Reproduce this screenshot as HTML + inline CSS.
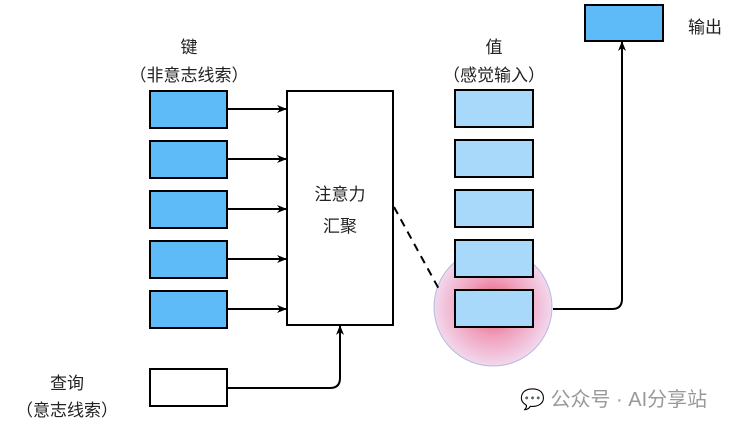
<!DOCTYPE html>
<html><head><meta charset="utf-8"><style>
body{margin:0;background:#fff;width:739px;height:428px;overflow:hidden}
text{font-family:"Liberation Sans","Noto Sans CJK SC",sans-serif;fill:#222}
</style></head><body>
<svg width="739" height="428" xmlns="http://www.w3.org/2000/svg">
<defs>
<radialGradient id="g" cx="0.5" cy="0.5" r="0.5">
<stop offset="0" stop-color="#e8506e"/>
<stop offset="0.5" stop-color="#f0a0bc"/>
<stop offset="1" stop-color="#f2d8ee"/>
</radialGradient>
<marker id="a" markerWidth="10" markerHeight="8" refX="9" refY="4" orient="auto" markerUnits="userSpaceOnUse">
<path d="M0,0 L10,4 L0,8 L3,4z" fill="#000"/>
</marker>
</defs>
<text x="189" y="53" font-size="17" text-anchor="middle">键</text>
<text x="189" y="81" font-size="17" text-anchor="middle">（非意志线索）</text>
<text x="494" y="53" font-size="17" text-anchor="middle">值</text>
<text x="494" y="81" font-size="17" text-anchor="middle">（感觉输入）</text>
<text x="705" y="33" font-size="17" text-anchor="middle">输出</text>
<text x="67" y="389" font-size="17" text-anchor="middle">查询</text>
<text x="67" y="416" font-size="17" text-anchor="middle">（意志线索）</text>
<circle cx="493" cy="307" r="59" fill="url(#g)" stroke="#b8b8e0" stroke-width="1"/>
<g stroke="#000" stroke-width="2">
<rect x="150" y="91" width="77" height="37" fill="#5fbaf8"/>
<rect x="150" y="141" width="77" height="37" fill="#5fbaf8"/>
<rect x="150" y="191" width="77" height="37" fill="#5fbaf8"/>
<rect x="150" y="241" width="77" height="37" fill="#5fbaf8"/>
<rect x="150" y="291" width="77" height="37" fill="#5fbaf8"/>
<rect x="150" y="369" width="77" height="37" fill="#fff"/>
<rect x="287" y="91" width="106" height="234" fill="#fff"/>
<rect x="455" y="90" width="78" height="37" fill="#a8d8fa"/>
<rect x="455" y="140" width="78" height="37" fill="#a8d8fa"/>
<rect x="455" y="190" width="78" height="37" fill="#a8d8fa"/>
<rect x="455" y="240" width="78" height="37" fill="#a8d8fa"/>
<rect x="455" y="290" width="78" height="37" fill="#a8d8fa"/>
<rect x="585" y="5" width="78" height="36" fill="#5fbaf8"/>
<g fill="none" marker-end="url(#a)">
<line x1="227" y1="109" x2="286" y2="109"/>
<line x1="227" y1="159" x2="286" y2="159"/>
<line x1="227" y1="209" x2="286" y2="209"/>
<line x1="227" y1="259" x2="286" y2="259"/>
<line x1="227" y1="309" x2="286" y2="309"/>
<path d="M227,388 H330 Q340,388 340,378 V326"/>
<path d="M553,309 H612 Q622,309 622,299 V42"/>
</g>
<line x1="394" y1="207" x2="440" y2="291" stroke-dasharray="8,6" fill="none"/>
</g>
<text x="340" y="200" font-size="17" text-anchor="middle">注意力</text>
<text x="340" y="232" font-size="17" text-anchor="middle">汇聚</text>
<text x="520" y="406" font-size="20" style="fill:#999">💬 公众号 · AI分享站</text>
</svg>
</body></html>
